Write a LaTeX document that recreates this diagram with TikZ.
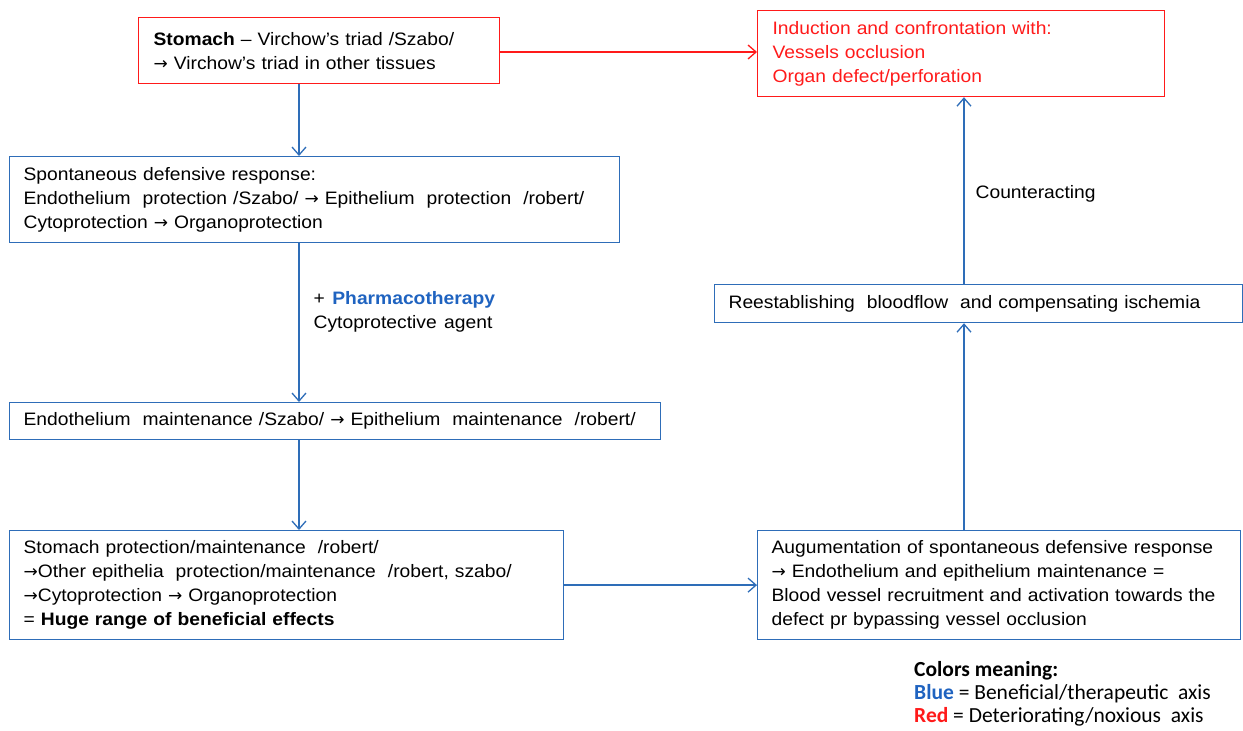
\documentclass[tikz,border=0pt]{standalone}
\usepackage{fontspec}
\setmainfont{Liberation Sans}[FakeStretch=1.07, WordSpace=1.4]
\newfontfamily\legfont{Carlito}
\newfontfamily\arrfont{DejaVu Sans}
\newcommand{\rarr}{{\arrfont\fontsize{17}{24}\selectfont →}}
\usetikzlibrary{arrows.meta}
\definecolor{lblue}{HTML}{2E6DB8}
\definecolor{tblue}{HTML}{1F63C0}
\definecolor{lred}{HTML}{FF1A1A}
\tikzset{
  box/.style={draw=lblue, line width=1.2pt, anchor=north west, align=left,
    inner xsep=14pt, inner ysep=0pt, font=\fontsize{18}{24}\selectfont},
  redbox/.style={box, draw=lred},
  bar/.style={draw=lblue, line width=1.3pt, -{Straight Barb[length=8pt,width=14pt,line width=1.3pt]}},
  redbar/.style={bar, draw=lred},
  lbl/.style={anchor=west, inner sep=0pt, font=\fontsize{18}{24}\selectfont, align=left}
}
\begin{document}
\begin{tikzpicture}[x=1pt,y=-1pt]
\useasboundingbox (0,0) rectangle (1243,731);
\node[redbox, minimum width=361pt, minimum height=66pt, text width=331pt] (s) at (138,17)
  {\textbf{Stomach} -- Virchow's\ triad\ /Szabo/\\\rarr{} Virchow's\ triad\ in other tissues};
\node[redbox, minimum width=407pt, minimum height=86pt, text width=377pt, text=lred] (ind) at (757,10)
  {Induction\ and\ confrontation\ with:\\Vessels occlusion\\Organ defect/perforation};
\node[box, minimum width=610pt, minimum height=86pt, text width=582pt] (sp) at (9,156)
  {Spontaneous defensive response:\\Endothelium\ \ protection /Szabo/ \rarr{} Epithelium\ \ protection\ \ /robert/\\Cytoprotection \rarr{} Organoprotection};
\node[box, minimum width=651pt, minimum height=37pt, text width=623pt] (em) at (9,402)
  {Endothelium\ \ maintenance /Szabo/ \rarr{} Epithelium\ \ maintenance\ \ /robert/};
\node[box, minimum width=554pt, minimum height=109pt, text width=526pt] (sm) at (9,530)
  {Stomach protection/maintenance\ \ /robert/\\\rarr{}Other epithelia\ \ protection/maintenance\ \ /robert, szabo/\\\rarr{}Cytoprotection\ \rarr{} Organoprotection\\= \textbf{Huge range of beneficial effects}};
\node[box, minimum width=483pt, minimum height=109pt, text width=455pt] (aug) at (757,530)
  {\mbox{Augumentation of spontaneous defensive response}\\\mbox{\rarr{} Endothelium\ and\ epithelium\ maintenance =}\\\mbox{Blood vessel recruitment and activation towards the}\\\mbox{defect pr bypassing vessel occlusion}};
\node[box, minimum width=528pt, minimum height=38pt, text width=500pt] (re) at (714,284)
  {Reestablishing\ \ bloodflow\ \ and compensating\ ischemia};
\coordinate (lx) at (299,0);
\coordinate (rx) at (964,0);
\coordinate (ry) at (0,52);
\draw[redbar] (s.east |- ry) -- (ind.west |- ry);
\draw[bar] (s.south -| lx) -- (sp.north -| lx);
\draw[bar] (sp.south -| lx) -- node[lbl, pos=0.43, xshift=14pt] (ph) {+ \textcolor{tblue}{\textbf{Pharmacotherapy}}\\Cytoprotective\ agent} (em.north -| lx);
\draw[bar] (em.south -| lx) -- (sm.north -| lx);
\draw[bar] (sm.east) -- (aug.west);
\draw[bar] (aug.north -| rx) -- (re.south -| rx);
\draw[bar] (re.north -| rx) -- node[lbl, pos=0.48, xshift=11pt] (ct) {Counteracting} (ind.south -| rx);
\node[anchor=north west, inner sep=0pt, align=left, font=\legfont\fontsize{21.5}{23}\selectfont] (leg) at (914,661)
  {\textbf{Colors meaning:}\\\textcolor{tblue}{\textbf{Blue}} = Beneficial/therapeutic\ \ axis\\\textcolor{lred}{\textbf{Red}} = Deteriorating/noxious\ \ axis};
\end{tikzpicture}
\end{document}
